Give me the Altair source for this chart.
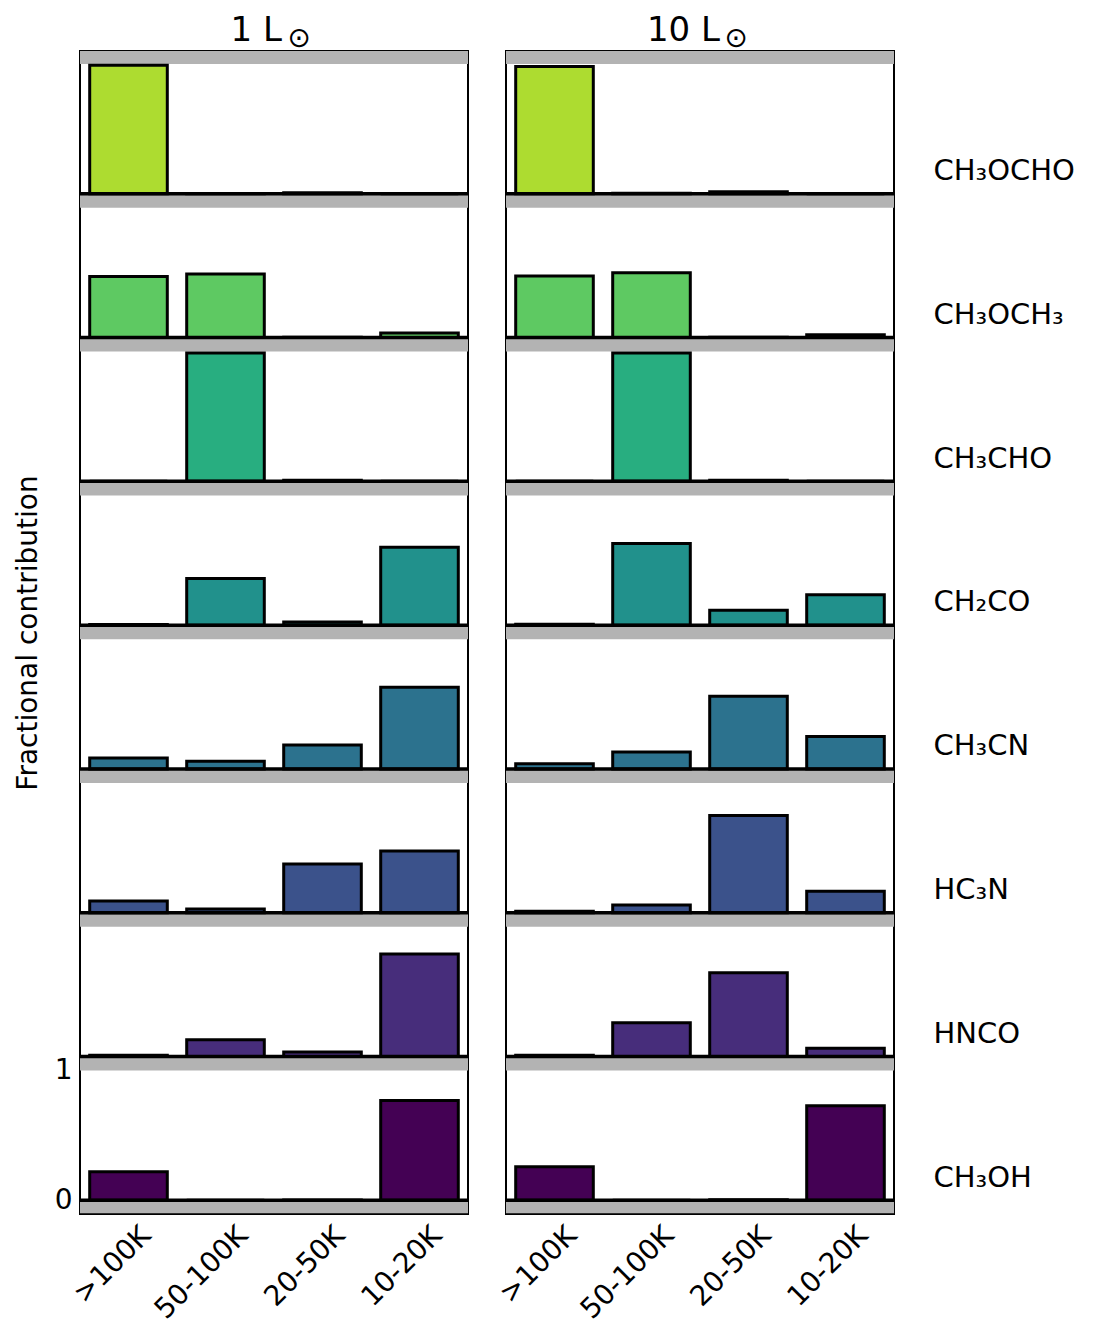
import altair as alt
import pandas as pd

# ---- data ----
molecules = ["CH₃OCHO", "CH₃OCH₃", "CH₃CHO", "CH₂CO", "CH₃CN", "HC₃N", "HNCO", "CH₃OH"]
colors = ["#addc30", "#5ec962", "#28ae80", "#21918c", "#2c728e", "#3b528b", "#472d7b", "#440154"]
bins = [">100K", "50-100K", "20-50K", "10-20K"]
panel_titles = ["1 L", "10 L"]

# fractional contribution per temperature bin (rows follow `molecules`)
lum_1 = [
    [0.99, 0.002, 0.008, 0.0],
    [0.47, 0.49, 0.002, 0.035],
    [0.0, 0.99, 0.008, 0.0],
    [0.006, 0.36, 0.025, 0.60],
    [0.085, 0.06, 0.185, 0.63],
    [0.09, 0.03, 0.375, 0.475],
    [0.01, 0.13, 0.035, 0.79],
    [0.22, 0.0, 0.003, 0.77],
]
lum_10 = [
    [0.98, 0.003, 0.015, 0.0],
    [0.475, 0.50, 0.002, 0.022],
    [0.0, 0.99, 0.008, 0.0],
    [0.008, 0.63, 0.115, 0.235],
    [0.04, 0.13, 0.56, 0.25],
    [0.012, 0.06, 0.75, 0.165],
    [0.01, 0.26, 0.645, 0.065],
    [0.26, 0.0, 0.005, 0.73],
]

# ---- layout constants ----
W = 388
H = 1163
P = 1.108            # vertical pitch between stacked rows (data units)
YMIN = -0.105
YMAX = 7 * P + 1.1
LABEL_SHIFT = 0.18
n = len(molecules)

def build(values):
    rows = []
    for i, mol in enumerate(molecules):
        base = (n - 1 - i) * P
        for j, b in enumerate(bins):
            rows.append({"mol": mol, "bin": b, "base": base, "top": base + values[i][j]})
    return pd.DataFrame(rows)

bases = pd.DataFrame({"b": [(n - 1 - i) * P for i in range(n)]})
band_rows = []
for i in range(n):
    b = (n - 1 - i) * P
    band_rows.append({"lo": b - 0.1, "hi": b})
    band_rows.append({"lo": b + 1.0, "hi": b + 1.1})
bands_df = pd.DataFrame(band_rows)

yscale = alt.Scale(domain=[YMIN, YMAX], nice=False, zero=False)
xscale = alt.Scale(domain=bins, paddingInner=0.2, paddingOuter=0.1)
cscale = alt.Scale(domain=molecules, range=colors)

names_bottom_up = list(reversed(molecules))
label_expr = "[" + ",".join("'" + m + "'" for m in names_bottom_up) + "][round((datum.value - %g) / %g)]" % (LABEL_SHIFT, P)

def column(values, title, side):
    if side == "left":
        yaxis = alt.Axis(values=[0, 1], format="d", labelFontSize=28, title="Fractional contribution",
                         titleFontSize=28, titleFontWeight="normal", ticks=False, domain=False,
                         grid=False, labelPadding=8, titlePadding=12)
        title_x, sun_x = 202, 219
    else:
        yaxis = alt.Axis(orient="right", values=[k * P + LABEL_SHIFT for k in range(n)],
                         labelExpr=label_expr, labelFontSize=29, ticks=False, domain=False,
                         grid=False, labelPadding=39, title=None, labelAlign="left")
        title_x, sun_x = 214, 230
    xaxis = alt.Axis(title=None, labelAngle=-45, labelFontSize=28, labelAlign="right",
                     labelBaseline="middle", ticks=False, domain=False, labelPadding=17,
                     labelOffset=18)
    df = build(values)
    bands = alt.Chart(bands_df).mark_rect(color="#b3b3b3").encode(
        y=alt.Y("lo:Q", scale=yscale, axis=yaxis), y2="hi:Q",
        x=alt.value(0), x2=alt.value(W))
    bars = alt.Chart(df).mark_bar(stroke="black", strokeWidth=3).encode(
        x=alt.X("bin:N", sort=bins, scale=xscale, axis=xaxis),
        y=alt.Y("base:Q", scale=yscale, axis=yaxis), y2="top:Q",
        color=alt.Color("mol:N", scale=cscale, legend=None))
    rules = alt.Chart(bases).mark_rule(color="black", strokeWidth=3.5).encode(
        y=alt.Y("b:Q", scale=yscale, axis=yaxis), x=alt.value(0), x2=alt.value(W))
    head = alt.Chart(pd.DataFrame({"t": [title]})).mark_text(
        fontSize=34, align="right", baseline="alphabetic", color="black").encode(
        text="t:N", x=alt.value(title_x), y=alt.value(-10))
    sun = alt.Chart(pd.DataFrame({"t": ["⊙"]})).mark_text(
        fontSize=28, align="center", baseline="middle", color="black").encode(
        text="t:N", x=alt.value(sun_x), y=alt.value(-12))
    return alt.layer(bands, bars, rules, head, sun).properties(width=W, height=H)

chart = alt.hconcat(column(lum_1, panel_titles[0], "left"),
                    column(lum_10, panel_titles[1], "right"),
                    spacing=38, bounds="flush").properties(
    padding={"left": 13, "top": 13, "right": 5, "bottom": 5}
).configure(font="DejaVu Sans").configure_view(stroke="black", strokeWidth=2).configure_axis(
    labelColor="black", titleColor="black", labelFont="DejaVu Sans", titleFont="DejaVu Sans"
)

chart.save("out.html", embed_options={"renderer": "svg", "actions": False})
